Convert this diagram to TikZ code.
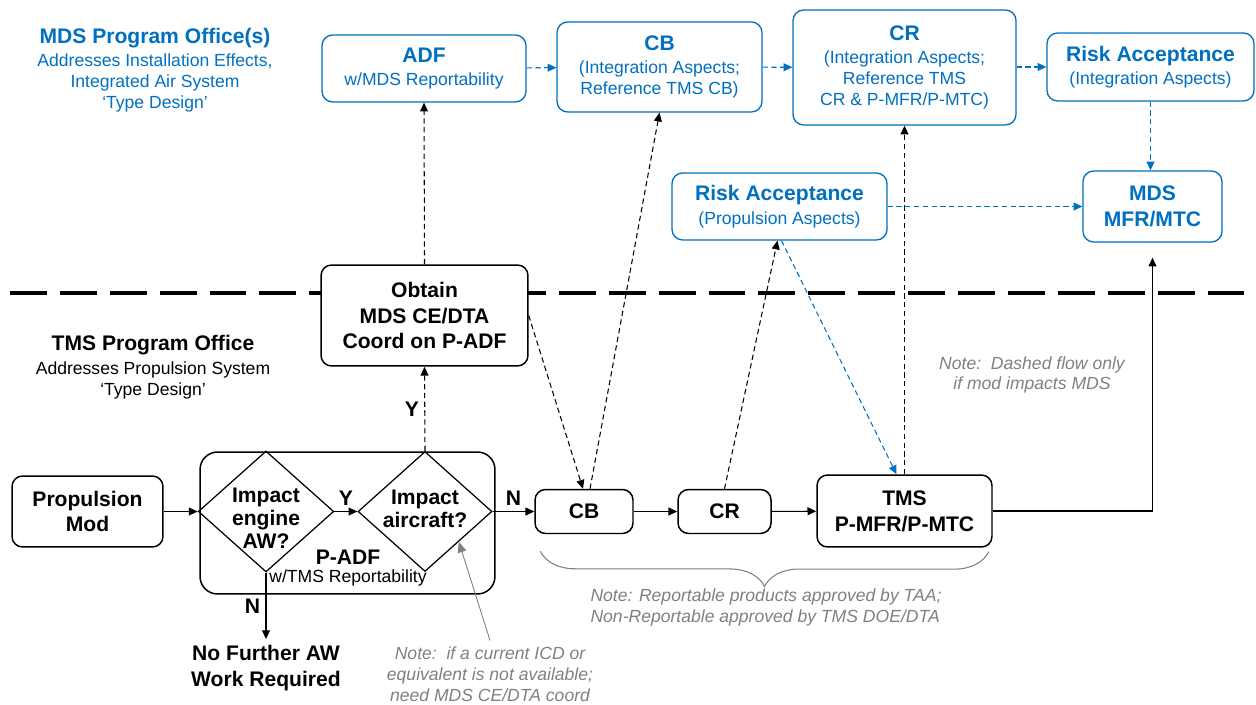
\documentclass[tikz,border=0pt]{standalone}
\usepackage{fontspec}
\setmainfont{Liberation Sans}
\usetikzlibrary{arrows.meta, shapes.geometric, decorations.pathreplacing, calc}
\definecolor{MDSBlue}{RGB}{0,112,192}
\definecolor{NoteGray}{RGB}{128,128,128}
\newcommand{\titlesize}{\fontsize{12}{14.7}\selectfont\bfseries}
\newcommand{\subsize}{\fontsize{10}{11.9}\selectfont}

\begin{document}
\begin{tikzpicture}[x=0.02cm, y=-0.02cm]
    \tikzset{
        mdsblock/.style={rectangle, rounded corners=6pt, draw=MDSBlue, line width=0.75pt,
            fill=white, text=MDSBlue, font=\subsize, align=center, inner sep=2pt},
        tmsblock/.style={rectangle, rounded corners=6pt, draw=black, line width=0.85pt,
            fill=white, font=\titlesize, align=center, inner sep=2pt},
        decision/.style={diamond, draw=black, line width=0.7pt, aspect=1.12, inner sep=-2pt,
            font=\fontsize{12}{13}\selectfont\bfseries, align=center},
        flowlabel/.style={font=\titlesize, inner sep=3pt},
        notetext/.style={font=\subsize\itshape, text=NoteGray},
        flow/.style={line width=0.6pt, -{Triangle[length=5pt, width=4.5pt]}},
        coordflow/.style={flow, dash pattern=on 3pt off 2pt},
        mdsflow/.style={flow, draw=MDSBlue, dash pattern=on 3pt off 2pt},
        notearrow/.style={draw=NoteGray, line width=0.5pt, -{Triangle[length=6pt, width=5pt]}},
        notebrace/.style={draw=NoteGray, line width=0.6pt, decorate,
            decoration={brace, amplitude=0.7cm}},
        divider/.style={line width=2.4pt, dash pattern=on 21pt off 7.4pt}
    }
    \useasboundingbox (0,0) rectangle (1256,705);

    % office headings and boundary
    \node[text=MDSBlue, font=\subsize, align=center] (mdshead) at (155,70)
        {{\titlesize MDS Program Office(s)}\\[1.5pt]Addresses Installation Effects,\\Integrated Air System\\‘Type Design’};
    \node[font=\subsize, align=center] (tmshead) at (153,367)
        {{\titlesize TMS Program Office}\\[1.5pt]Addresses Propulsion System\\‘Type Design’};
    \draw[divider] (10,293) -- (1256,293);

    % MDS side
    \node[mdsblock, minimum width=4.08cm, minimum height=1.34cm] (adf) at (424,68.5)
        {{\titlesize ADF}\\[1.5pt]w/MDS Reportability};
    \node[mdsblock, minimum width=4.1cm, minimum height=1.8cm] (cbmds) at (659.5,67)
        {{\titlesize CB}\\[1.5pt](Integration Aspects;\\Reference TMS CB)};
    \node[mdsblock, minimum width=4.46cm, minimum height=2.3cm] (crmds) at (904.5,67.5)
        {{\titlesize CR}\\[1.5pt](Integration Aspects;\\Reference TMS\\CR \& P-MFR/P-MTC)};
    \node[mdsblock, minimum width=4.14cm, minimum height=1.36cm] (riskint) at (1150.5,67)
        {{\titlesize Risk Acceptance}\\[1.5pt](Integration Aspects)};
    \node[mdsblock, minimum width=4.3cm, minimum height=1.34cm] (riskprop) at (779.5,206.5)
        {{\titlesize Risk Acceptance}\\[1.5pt](Propulsion Aspects)};
    \node[mdsblock, font=\titlesize, minimum width=2.78cm, minimum height=1.42cm] (mdsmfr) at (1152.5,206.5)
        {MDS\\MFR/MTC};

    % TMS side
    \node[tmsblock, minimum width=4.14cm, minimum height=2.02cm] (obtain) at (424.5,315.5)
        {Obtain\\MDS CE/DTA\\Coord on P-ADF};
    \node[tmsblock, minimum width=3.02cm, minimum height=1.42cm] (propmod) at (87.5,511.5)
        {Propulsion\\Mod};
    \node[tmsblock, rounded corners=10pt, minimum width=5.9cm, minimum height=2.84cm] (padf) at (347.5,523) {};
    \node[decision, minimum width=2.64cm, minimum height=2.36cm, text height=41.9pt, text depth=-7.3pt]
        (impengine) at (266,511.5) {Impact\\engine\\AW?};
    \node[decision, minimum width=2.68cm, minimum height=2.4cm, text height=19.9pt, text depth=1.7pt]
        (impaircraft) at (425,511.5) {Impact\\aircraft?};
    \node[font=\titlesize] (padflabel) at (348,557) {P-ADF};
    \node[font=\subsize] (padfsub) at (348,578) {w/TMS Reportability};
    \node[tmsblock, minimum width=1.96cm, minimum height=0.88cm] (cbtms) at (584,511.5) {CB};
    \node[tmsblock, minimum width=1.86cm, minimum height=0.88cm] (crtms) at (724.5,511.5) {CR};
    \node[tmsblock, minimum width=3.5cm, minimum height=1.44cm] (tmsmfr) at (904.5,511) {TMS\\P-MFR/P-MTC};
    \node[font=\titlesize, align=center] (nofurther) at (266,668) {No Further AW\\Work Required};

    % notes
    \node[notetext, align=center] (dashnote) at (1032,375) {Note:\ \ Dashed flow only\\if mod impacts MDS};
    \node[notetext, align=left] (taanote) at (766,607)
        {Note: Reportable products approved by TAA;\\Non-Reportable approved by TMS DOE/DTA};
    \node[notetext, align=center] (icdnote) at (490,674)
        {Note:\ \ if a current ICD or\\equivalent is not available;\\need MDS CE/DTA coord};

    \draw[mdsflow] (adf) -- (cbmds);
    \draw[mdsflow] (cbmds) -- (crmds);
    \draw[mdsflow] (crmds.east |- riskint) -- (riskint);
    \draw[mdsflow] (riskint.south) -- (riskint.south |- mdsmfr.north);
    \draw[mdsflow] (riskprop) -- (mdsmfr);

    \draw[flow] (propmod) -- (impengine);
    \draw[flow] (impengine) -- node[flowlabel, above] {Y} (impaircraft);
    \draw[flow] (impaircraft) -- node[flowlabel, above] {N} (cbtms);
    \draw[flow] (cbtms) -- (crtms);
    \draw[flow] (crtms) -- (tmsmfr);
    \draw[flow] (impengine.south) -- node[flowlabel, left] {N} (nofurther.north);
    \draw[flow] (tmsmfr.east) -| ([yshift=-0.3cm]mdsmfr.south);

    \draw[coordflow] (impaircraft.north) -- node[flowlabel, left] {Y} (obtain.south);
    \draw[coordflow] (obtain.north) -- (adf.south);
    \draw[coordflow] (obtain.east) -- ([xshift=-0.02cm]cbtms.north);
    \draw[coordflow] ([xshift=0.12cm]cbtms.north) -- (cbmds.south);
    \draw[coordflow] (crtms.north) -- ([xshift=-0.04cm]riskprop.south);
    \draw[mdsflow] ([xshift=0.04cm]riskprop.south) -- ([xshift=-0.16cm]tmsmfr.north);
    \draw[coordflow] (tmsmfr.north) -- (crmds.south);

    \draw[notearrow] (icdnote.north) -- (impaircraft.south east);
    \draw[notebrace] ([xshift=-0.08cm, yshift=-0.08cm]tmsmfr.south east)
        -- ([xshift=0.12cm, yshift=-0.34cm]cbtms.south west);
\end{tikzpicture}
\end{document}
